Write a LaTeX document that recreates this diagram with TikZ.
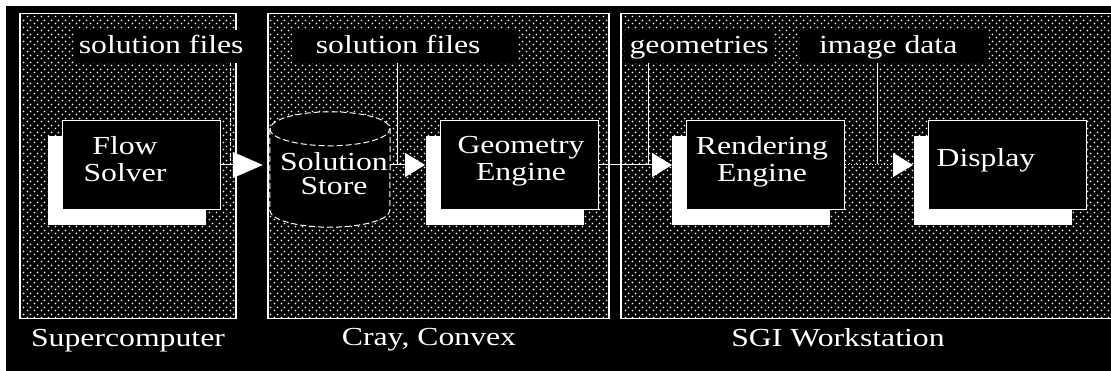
\documentclass[tikz,border=0pt]{standalone}
\usepackage{fontspec}
\newfontfamily\bmfont[FakeStretch=1.22]{Liberation Serif}
\usetikzlibrary{patterns,shadows,arrows.meta}
\pgfdeclarepatternformonly{screendots}{\pgfqpoint{0pt}{0pt}}{\pgfqpoint{6.5pt}{6.5pt}}{\pgfqpoint{6.5pt}{6.5pt}}{%
  \pgfpathcircle{\pgfqpoint{1.625pt}{1.625pt}}{1.0pt}%
  \pgfpathcircle{\pgfqpoint{4.875pt}{4.875pt}}{1.0pt}%
  \pgfusepath{fill}}
\tikzset{
  txt/.style={text=white, font=\bmfont\fontsize{26}{27}\selectfont, inner sep=0pt},
  panel/.style={draw=white, line width=1.5pt, pattern=screendots, pattern color=white,
    anchor=north west, inner sep=0pt, minimum height=305pt},
  tag/.style={txt, fill=black, anchor=north west, minimum height=33pt, text height=18pt, text depth=4pt},
  procbox/.style={draw=white, line width=1pt, fill=black, anchor=north west,
    minimum width=158pt, minimum height=89pt, inner sep=0pt,
    general shadow={fill=white, draw=none, shadow xshift=-15pt, shadow yshift=-16pt}},
  storeline/.style={draw=white, line width=1pt, dash pattern=on 6pt off 3pt},
  flowarrow/.style={draw=white, line width=1pt, -{Triangle[length=20pt,width=24pt]}},
  feed/.style={draw=white, line width=1pt},
}
\begin{document}
\begin{tikzpicture}[x=1pt,y=-1pt]
  \useasboundingbox (0,0) rectangle (1111,371);
  \fill[black] (0,0) rectangle (1111,371);
  \fill[white] (0,0) rectangle (1111,6);
  \fill[white] (0,0) rectangle (6,371);

  % panels
  \node[panel, minimum width=216pt] (p1) at (19,13) {};
  \node[panel, minimum width=341pt] (p2) at (267,13) {};
  \node[panel, minimum width=500pt] (p3) at (620,13) {};

  % panel captions
  \node[txt, anchor=base] (c1) at (128,346) {Supercomputer};
  \node[txt, anchor=base] (c2) at (429,345) {Cray, Convex};
  \node[txt, anchor=base] (c3) at (838,346) {SGI Workstation};

  % data labels
  \node[tag, minimum width=172pt] (l1) at (75,30) {solution files};
  \node[tag, minimum width=225pt] (l2) at (292,30) {solution files\hspace*{13pt}};
  \node[tag, minimum width=148pt] (l3) at (625,30) {geometries};
  \node[tag, minimum width=187pt] (l4) at (800,30) {image data\hspace*{11pt}};

  % process boxes
  \node[procbox] (flow) at (62,120) {};
  \node[procbox] (geo) at (440,120) {};
  \node[procbox] (rend) at (686,120) {};
  \node[procbox] (disp) at (928,120) {};

  % solution store (cylinder)
  \node[minimum width=120pt, minimum height=115pt, inner sep=0pt] (store) at (330,169.5) {};
  \path[storeline, fill=black]
    ([yshift=-17pt]store.north west) -- ([yshift=17pt]store.south west)
    arc[start angle=180, end angle=360, x radius=60pt, y radius=17pt]
    -- ([yshift=-17pt]store.north east)
    arc[start angle=0, end angle=180, x radius=60pt, y radius=17pt] -- cycle;
  \path[storeline] ([yshift=-17pt]store.north west)
    arc[start angle=180, end angle=360, x radius=60pt, y radius=17pt];

  % texts
  \node[txt, align=center, anchor=north] (flowtext) at (125,136) {Flow\\Solver};
  \node[txt, align=center, anchor=north] (geotext) at (521,136) {Geometry\\Engine};
  \node[txt, align=center, anchor=north] (rendtext) at (762,136) {Rendering\\Engine};
  \node[txt, anchor=base] (disptext) at (986,167) {Display};
  \node[txt, align=center, anchor=north] (storetext) at (334,152) {Solution\\[-3pt]Store};

  % junctions
  \coordinate (j1) at (230,164.5);
  \coordinate (j2) at (397,164.5);
  \coordinate (j3) at (648,164.5);
  \coordinate (j4) at (877,164.5);

  % flows
  \draw[flowarrow, -{Triangle[length=30pt,width=26pt]}, shorten >=7pt] (flow.east) -- (flow.east -| store.west);
  \draw[flowarrow, shorten >=15pt] (geo.west -| store.east) -- (geo.west);
  \draw[flowarrow, shorten >=14pt] (geo.east) -- (rend.west);
  \draw[flowarrow, dotted, shorten >=15pt] (rend.east) -- (disp.west);

  % feeds from labels
  \draw[feed, dash pattern=on 3pt off 2pt] (l1.south -| j1) -- (j1);
  \draw[feed] (l2.south -| j2) -- (j2);
  \draw[feed] (l3.south -| j3) -- (j3);
  \draw[feed] (l4.south -| j4) -- (j4);
\end{tikzpicture}
\end{document}
